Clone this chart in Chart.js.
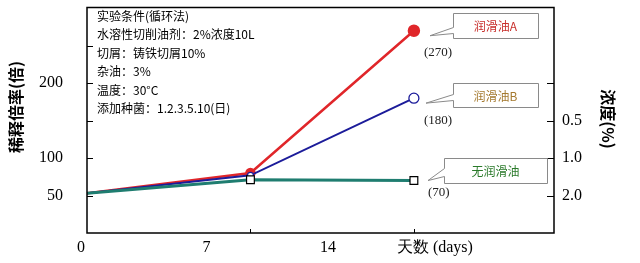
<!DOCTYPE html>
<html>
<head>
<meta charset="utf-8">
<script src="https://cdn.jsdelivr.net/npm/chart.js@4.4.1/dist/chart.umd.min.js"></script>
<style>
  html, body { margin: 0; padding: 0; background: #fff; }
  #wrap { width: 640px; height: 263px; }
</style>
</head>
<body>
<div id="wrap"><canvas id="chart" width="640" height="263"></canvas></div>
<script>
// data
var days = [0, 7, 14];
var oilA = [53, 80, 270];
var oilB = [53, 77, 180];
var noOil = [53, 71, 70];
var seriesNames = ['润滑油A', '润滑油B', '无润滑油'];
var endLabels = ['(270)', '(180)', '(70)'];

var leftTicks = [50, 100, 150, 200, 250];
var leftTickLabels = ['50', '100', '', '200', ''];
var rightTicks = [50, 100, 150, 200];
var rightTickLabels = ['2.0', '1.0', '0.5', ''];
var xTickMarks = [7, 14];
var xTickLabels = ['0', '7', '14', '天数 (days)'];

var notes = [
  '实验条件(循环法)',
  '水溶性切削油剂：2%浓度10L',
  '切屑：铸铁切屑10%',
  '杂油：3%',
  '温度：30°C',
  '添加种菌：1.2.3.5.10(日)'
];

var SERIF = '"Liberation Serif", "DejaVu Serif", serif';
var SANS = '"Noto Sans CJK SC", "Noto Sans", sans-serif';

function pts(vals) {
  return days.map(function (d, i) { return { x: d, y: vals[i] }; });
}

// y axes: fixed width, and no extra room reserved for half label heights
function fixY(width) {
  return function (s) {
    s.width = width;
    s.paddingTop = 0;
    s.paddingBottom = 0;
  };
}

// draws frame, inner tick marks, titles, notes and callouts
var decor = {
  id: 'decor',
  afterDraw: function (chart) {
    var c = chart.ctx;
    var a = chart.chartArea;
    var xs = chart.scales.x, ys = chart.scales.y;
    c.save();
    c.strokeStyle = '#000';
    c.lineWidth = 1.5;
    c.strokeRect(a.left, a.top, a.right - a.left, a.bottom - a.top);

    c.lineWidth = 1;
    leftTicks.forEach(function (v) {
      var y = Math.round(ys.getPixelForValue(v)) + 0.5;
      c.beginPath(); c.moveTo(a.left, y); c.lineTo(a.left + 6, y); c.stroke();
    });
    rightTicks.forEach(function (v) {
      var y = Math.round(ys.getPixelForValue(v)) + 0.5;
      c.beginPath(); c.moveTo(a.right, y); c.lineTo(a.right - 7, y); c.stroke();
    });
    xTickMarks.forEach(function (v) {
      var x = Math.round(xs.getPixelForValue(v)) + 0.5;
      c.beginPath(); c.moveTo(x, a.bottom); c.lineTo(x, a.bottom - 4); c.stroke();
    });

    // x labels sit left of their marks in the original
    var xLabelAt = [0, 7, 14, 14];
    var xLabelShift = [-6, -44, -86, -17];
    c.fillStyle = '#000';
    c.textBaseline = 'middle';
    c.font = '16px ' + SERIF;
    xTickLabels.forEach(function (t, i) {
      var x = xs.getPixelForValue(xLabelAt[i]) + xLabelShift[i];
      c.textAlign = i === 3 ? 'left' : 'center';
      c.fillText(t, x, a.bottom + 15);
    });

    // axis titles
    c.font = 'bold 16px ' + SANS;
    c.textAlign = 'center';
    c.save();
    c.translate(16, 107);
    c.rotate(-Math.PI / 2);
    c.fillText('稀释倍率(倍)', 0, 0);
    c.restore();
    c.save();
    c.translate(608, 119);
    c.rotate(Math.PI / 2);
    c.fillText('浓度(%)', 0, 0);
    c.restore();

    // notes block
    c.font = '12px ' + SANS;
    c.textAlign = 'left';
    notes.forEach(function (t, i) {
      c.fillText(t, a.left + 10, a.top + 9 + i * 18.4);
    });

    // callouts
    var boxes = [
      { x: 453, y: 13, w: 85, h: 25, color: '#c8302c', notch: [27, 33] },
      { x: 453, y: 83, w: 85, h: 24, color: '#a57a30', notch: [94, 100] },
      { x: 444, y: 158, w: 103, h: 25, color: '#2a7a2a', notch: [168, 176] }
    ];
    var sets = [oilA, oilB, noOil];
    var tipX = [430, 426, 428];
    boxes.forEach(function (b, i) {
      var endY = ys.getPixelForValue(sets[i][sets[i].length - 1]);
      var tipY = endY + (i === 2 ? 0 : 5);
      c.beginPath();
      c.moveTo(b.x + 0.5, b.y + 0.5);
      c.lineTo(b.x + b.w + 0.5, b.y + 0.5);
      c.lineTo(b.x + b.w + 0.5, b.y + b.h + 0.5);
      c.lineTo(b.x + 0.5, b.y + b.h + 0.5);
      c.lineTo(b.x + 0.5, b.notch[1] + 0.5);
      c.lineTo(tipX[i], tipY);
      c.lineTo(b.x + 0.5, b.notch[0] + 0.5);
      c.closePath();
      c.fillStyle = '#fff';
      c.fill();
      c.strokeStyle = '#8a8a8a';
      c.lineWidth = 1;
      c.stroke();
      c.fillStyle = b.color;
      c.font = '12px ' + SANS;
      c.textAlign = 'center';
      c.fillText(seriesNames[i], b.x + b.w / 2, b.y + b.h / 2 + 1);

      c.fillStyle = '#222';
      c.font = '13px ' + SERIF;
      c.textAlign = 'left';
      c.fillText(endLabels[i], 424 + (i === 2 ? 4 : 0), endY + (i === 2 ? 12 : 22));
    });
    c.restore();
  }
};

var ctx = document.getElementById('chart').getContext('2d');
var chart = new Chart(ctx, {
  type: 'line',
  data: {
    datasets: [
      {
        label: seriesNames[2],
        data: pts(noOil),
        borderColor: '#1f7d70',
        borderWidth: 3,
        pointStyle: 'rect',
        pointRadius: [0, 5.5, 5.5],
        pointBackgroundColor: '#fff',
        pointBorderColor: '#000',
        pointBorderWidth: 1.2,
        order: 0
      },
      {
        label: seriesNames[1],
        data: pts(oilB),
        borderColor: '#1c1c9a',
        borderWidth: 2,
        pointRadius: [0, 3, 5],
        pointBackgroundColor: '#fff',
        pointBorderColor: '#1c1c9a',
        pointBorderWidth: 1.3,
        order: 1
      },
      {
        label: seriesNames[0],
        data: pts(oilA),
        borderColor: '#e0262a',
        borderWidth: 2.5,
        pointRadius: [0, 4, 5],
        pointBackgroundColor: '#e0262a',
        pointBorderColor: '#e0262a',
        order: 2
      }
    ]
  },
  options: {
    animation: false,
    responsive: false,
    layout: { padding: { top: 5, left: 0, right: 0, bottom: 0 } },
    plugins: { legend: { display: false }, tooltip: { enabled: false } },
    elements: { line: { tension: 0 } },
    scales: {
      x: {
        type: 'linear',
        min: 0,
        max: 20,
        grid: { display: false },
        border: { display: false },
        ticks: { display: false },
        afterFit: function (s) { s.height = 30; s.paddingLeft = 0; s.paddingRight = 0; }
      },
      y: {
        type: 'linear',
        position: 'left',
        min: 0,
        max: 301,
        grid: { display: false, drawTicks: false },
        border: { display: false },
        afterBuildTicks: function (s) { s.ticks = leftTicks.map(function (v) { return { value: v }; }); },
        ticks: {
          padding: 24,
          color: '#000',
          font: { family: SERIF, size: 16 },
          callback: function (v) { return leftTickLabels[leftTicks.indexOf(v)]; }
        },
        afterFit: fixY(87)
      },
      y2: {
        type: 'linear',
        position: 'right',
        min: 0,
        max: 301,
        grid: { display: false, drawTicks: false },
        border: { display: false },
        afterBuildTicks: function (s) { s.ticks = rightTicks.map(function (v) { return { value: v }; }); },
        ticks: {
          padding: 8,
          color: '#000',
          font: { family: SERIF, size: 16 },
          callback: function (v) { return rightTickLabels[rightTicks.indexOf(v)]; }
        },
        afterFit: fixY(86)
      }
    }
  },
  plugins: [decor]
});
</script>
</body>
</html>
